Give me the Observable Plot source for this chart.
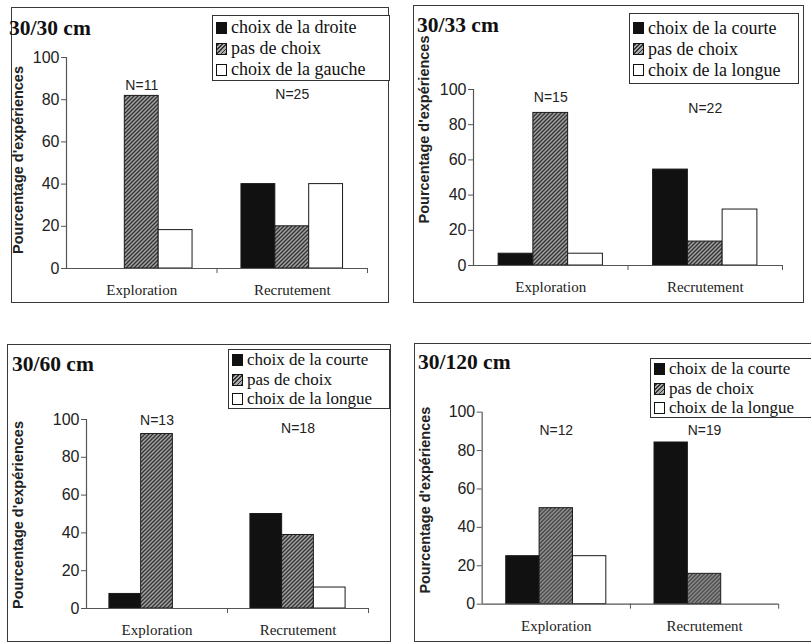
<!DOCTYPE html>
<html>
<head>
<meta charset="utf-8">
<script src="https://cdn.jsdelivr.net/npm/d3@7"></script>
<script src="https://cdn.jsdelivr.net/npm/@observablehq/plot@0.6"></script>
<style>
  body { margin: 0; background: #fff; }
  #page { position: relative; width: 811px; height: 644px; overflow: hidden; background: #fff; }
  .panel { position: absolute; border: 1.5px solid #3a3a3a; box-sizing: border-box; }
  .title { position: absolute; font-family: "Liberation Serif", "Times New Roman", serif; font-weight: bold; font-size: 21.5px; line-height: 22px; color: #111; white-space: nowrap; }
  .legend { position: absolute; border: 1.2px solid #333; box-sizing: border-box; background: #fff;
            display: flex; flex-direction: column; justify-content: center; padding: 1px 0 0 3px;
            font-family: "Liberation Serif", "Times New Roman", serif; color: #111; white-space: nowrap; }
  .legend .item { display: flex; align-items: center; }
  .legend .sw { width: 11px; height: 12px; border: 1px solid #111; box-sizing: border-box; margin-right: 4px; flex: none; }
  .plotwrap { position: absolute; }
  .plotwrap svg { overflow: visible; }
</style>
</head>
<body>
<svg width="0" height="0" style="position:absolute">
  <defs>
    <pattern id="hatch" width="4" height="4" patternUnits="userSpaceOnUse">
      <rect width="4" height="4" fill="#a0a0a0"></rect>
      <path d="M-1,1 l2,-2 M0,4 l4,-4 M3,5 l2,-2" stroke="#333" stroke-width="1.3"></path>
    </pattern>
  </defs>
</svg>
<div id="page"></div>
<script>
// ---------- data ----------
const categories = ["Exploration", "Recrutement"];
const yTicks = [0, 20, 40, 60, 80, 100];
const yLabel = "Pourcentage d'expériences";
const titles = ["30/30 cm", "30/33 cm", "30/60 cm", "30/120 cm"];
const legendDroiteGauche = ["choix de la droite", "pas de choix", "choix de la gauche"];
const legendCourteLongue = ["choix de la courte", "pas de choix", "choix de la longue"];

// values per series: [Exploration, Recrutement] (percent)
const p1Droite = [0, 40],     p1Pas = [81.8, 20],   p1Gauche = [18.2, 40],  p1N = [11, 25];
const p2Courte = [6.7, 54.5], p2Pas = [86.7, 13.6], p2Longue = [6.7, 31.8], p2N = [15, 22];
const p3Courte = [7.7, 50],   p3Pas = [92.3, 38.9], p3Longue = [0, 11.1],   p3N = [13, 18];
const p4Courte = [25, 84.2],  p4Pas = [50, 15.8],   p4Longue = [25, 0],     p4N = [12, 19];

// ---------- styles / layout ----------
const FILLS = ["#111", "url(#hatch)", "#fff"];
const SWATCH = ["#111", "repeating-linear-gradient(-45deg, #333 0 1.2px, #aaa 1.2px 3px)", "#fff"];
const AXIS = "#555";
const SANS = "Liberation Sans, Arial, sans-serif";
const SERIF = "Liberation Serif, Times New Roman, serif";
const BAR = 0.225;

// legend: [left, top, right, bottom, lineHeight, fontSize]
const layout = [
  {box: [11, 7, 389, 303],    plot: [66, 57, 367, 268],   title: [9, 35],    legend: [212, 15, 390, 81, 21, 18],    yl: [-48, -3],  nY: [86.7, 82.5]},
  {box: [413, 5, 804, 303],   plot: [473, 89, 782, 265],  title: [417, 32],  legend: [629, 13, 799, 84, 21, 18],    yl: [-49, -48], nY: [95.5, 89.2]},
  {box: [7, 344, 391, 642],   plot: [86, 419, 368, 608],  title: [12, 371],  legend: [228, 349, 390, 409, 19.5, 17], yl: [-68, 1],   nY: [99.5, 95.2]},
  {box: [414, 343, 813, 642], plot: [482, 412, 780, 605], title: [418, 369], legend: [650, 358, 812, 418, 19.5, 17], yl: [-57, -8],  nY: [90.2, 90.2]}
];

const page = document.getElementById("page");

function drawPanel(i, title, labels, seriesValues, ns) {
  const L = layout[i];
  const [bl, bt, br, bb] = L.box;

  const border = document.createElement("div");
  border.className = "panel";
  Object.assign(border.style, {left: bl + "px", top: bt + "px", width: (br - bl) + "px", height: (bb - bt) + "px"});
  page.appendChild(border);

  const rows = [];
  seriesValues.forEach((vals, k) => vals.forEach((v, g) => rows.push({g, k, v})));

  const plot = Plot.plot({
    width: br - bl,
    height: bb - bt,
    marginLeft: L.plot[0] - bl,
    marginTop: L.plot[1] - bt,
    marginRight: br - L.plot[2],
    marginBottom: bb - L.plot[3],
    x: {domain: [0, 2], axis: null, label: null},
    y: {domain: [0, 100], axis: null, label: null},
    color: {type: "identity"},
    style: {background: "transparent", overflow: "visible"},
    marks: [
      Plot.rectY(rows.filter(d => d.v > 0), {
        x1: d => d.g + 0.5 + (d.k - 1.5) * BAR,
        x2: d => d.g + 0.5 + (d.k - 0.5) * BAR,
        y1: 0, y2: "v",
        fill: d => FILLS[d.k],
        stroke: "#1a1a1a", strokeWidth: 1
      }),
      Plot.ruleY([0], {stroke: AXIS, strokeWidth: 1.2}),
      Plot.ruleX([0], {stroke: AXIS, strokeWidth: 1.2}),
      Plot.axisY({ticks: yTicks, label: null, tickSize: 5, tickPadding: 2, fontSize: 16, fontFamily: SANS, color: "#222", stroke: AXIS}),
      Plot.axisX({ticks: [1, 2], label: null, tickSize: 5, tickFormat: () => "", stroke: AXIS}),
      Plot.text(categories, {x: (d, g) => g + 0.5, y: 0, dy: 22, fontSize: 15, fontFamily: SERIF, fill: "#222"}),
      Plot.text(ns, {x: (d, g) => g + 0.5, y: (d, g) => L.nY[g], text: d => "N=" + d, fontSize: 14, fontFamily: SANS, fill: "#222"}),
      Plot.text([yLabel], {frameAnchor: "left", textAnchor: "middle", rotate: -90, dx: L.yl[0], dy: L.yl[1], fontWeight: "bold", fontSize: 14.5, fontFamily: SANS, fill: "#222"})
    ]
  });
  const wrap = document.createElement("div");
  wrap.className = "plotwrap";
  Object.assign(wrap.style, {left: bl + "px", top: bt + "px"});
  wrap.appendChild(plot);
  page.appendChild(wrap);

  const t = document.createElement("div");
  t.className = "title";
  t.textContent = title;
  Object.assign(t.style, {left: L.title[0] + "px", top: (L.title[1] - 18) + "px"});
  page.appendChild(t);

  const [ll, lt, lr, lb, lh, fs] = L.legend;
  const lg = document.createElement("div");
  lg.className = "legend";
  Object.assign(lg.style, {left: ll + "px", top: lt + "px", width: (lr - ll) + "px", height: (lb - lt) + "px", lineHeight: lh + "px", fontSize: fs + "px"});
  labels.forEach((lab, k) => {
    const it = document.createElement("div");
    it.className = "item";
    const sw = document.createElement("span");
    sw.className = "sw";
    sw.style.background = SWATCH[k];
    const tx = document.createElement("span");
    tx.textContent = lab;
    it.appendChild(sw);
    it.appendChild(tx);
    lg.appendChild(it);
  });
  page.appendChild(lg);
}

drawPanel(0, titles[0], legendDroiteGauche, [p1Droite, p1Pas, p1Gauche], p1N);
drawPanel(1, titles[1], legendCourteLongue, [p2Courte, p2Pas, p2Longue], p2N);
drawPanel(2, titles[2], legendCourteLongue, [p3Courte, p3Pas, p3Longue], p3N);
drawPanel(3, titles[3], legendCourteLongue, [p4Courte, p4Pas, p4Longue], p4N);
</script>
</body>
</html>
